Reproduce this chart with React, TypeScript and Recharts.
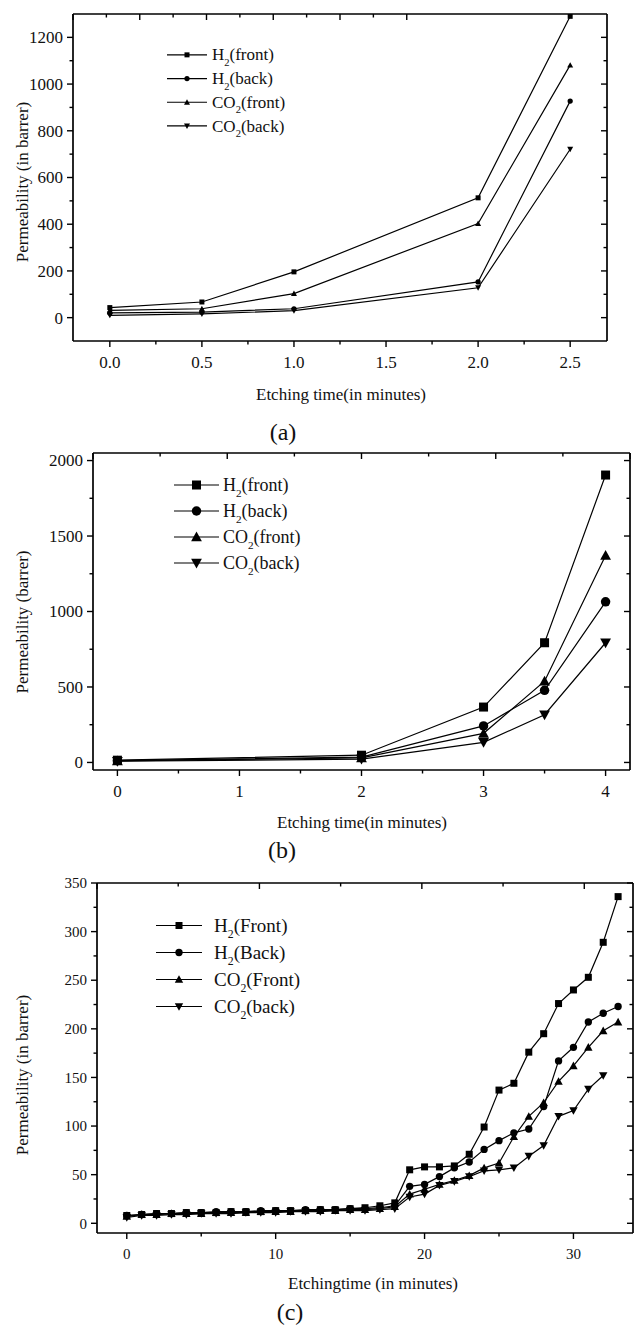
import React from 'react';
import { LineChart, Line, XAxis, YAxis, Legend } from 'recharts';

const FONT = '"Liberation Serif", "Times New Roman", serif';

// panel (a)
const timeA = [0, 0.5, 1, 2, 2.5];
const h2FrontA = [43, 67, 196, 513, 1290];
const h2BackA = [20, 24, 38, 153, 927];
const co2FrontA = [31, 38, 103, 403, 1081];
const co2BackA = [10, 16, 30, 128, 721];
const xTicksA = [0, 0.25, 0.5, 0.75, 1, 1.25, 1.5, 1.75, 2, 2.25, 2.5];
const yTicksA = [0, 100, 200, 300, 400, 500, 600, 700, 800, 900, 1000, 1100, 1200];

// panel (b)
const timeB = [0, 2, 3, 3.5, 4];
const h2FrontB = [15, 48, 367, 793, 1904];
const h2BackB = [12, 35, 242, 478, 1064];
const co2FrontB = [10, 30, 193, 538, 1371];
const co2BackB = [8, 22, 133, 316, 793];
const xTicksB = [0, 0.5, 1, 1.5, 2, 2.5, 3, 3.5, 4];
const yTicksB = [0, 250, 500, 750, 1000, 1250, 1500, 1750, 2000];

// panel (c)
const timeC = [0, 1, 2, 3, 4, 5, 6, 7, 8, 9, 10, 11, 12, 13, 14, 15, 16, 17, 18, 19, 20, 21, 22, 23, 24, 25, 26, 27, 28, 29, 30, 31, 32, 33];
const h2FrontC = [8, 9, 10, 10, 11, 11, 11, 12, 12, 12, 13, 13, 13, 14, 14, 15, 16, 18, 21, 55, 58, 58, 59, 71, 99, 137, 144, 176, 195, 226, 240, 253, 289, 336];
const h2BackC = [8, 9, 10, 10, 11, 11, 12, 12, 12, 13, 13, 13, 14, 14, 14, 15, 15, 16, 18, 38, 40, 48, 57, 63, 76, 85, 93, 97, 120, 167, 181, 207, 216, 223];
const co2FrontC = [7, 9, 9, 10, 10, 10, 11, 11, 11, 12, 12, 12, 13, 13, 13, 14, 14, 15, 17, 30, 35, 40, 44, 49, 57, 62, 89, 110, 124, 146, 162, 181, 198, 207];
const co2BackC = [6, 8, 8, 9, 9, 10, 10, 10, 11, 11, 11, 12, 12, 12, 13, 13, 13, 14, 15, 27, 30, 39, 43, 48, 54, 55, 57, 69, 80, 110, 116, 138, 152];
const xTicksC = [0, 5, 10, 15, 20, 25, 30];
const yTicksC = [0, 25, 50, 75, 100, 125, 150, 175, 200, 225, 250, 275, 300, 325, 350];

type Shape = 'square' | 'circle' | 'up' | 'down';
type Side = 'bottom' | 'top' | 'left' | 'right';

type SeriesDef = {
  key: string;
  base: string;
  label: string;
  shape: Shape;
  values: (number | undefined)[];
};

const Marker = ({ cx, cy, shape, size }: { cx?: number; cy?: number; shape: Shape; size: number }) => {
  if (cx == null || cy == null || Number.isNaN(cy)) return null;
  const h = size / 2;
  if (shape === 'square') return <rect x={cx - h} y={cy - h} width={size} height={size} fill="#000" />;
  if (shape === 'circle') return <circle cx={cx} cy={cy} r={h * 1.05} fill="#000" />;
  const t = h * 1.2;
  if (shape === 'up')
    return <polygon points={`${cx},${cy - t} ${cx - t},${cy + t * 0.8} ${cx + t},${cy + t * 0.8}`} fill="#000" />;
  return <polygon points={`${cx},${cy + t} ${cx - t},${cy - t * 0.8} ${cx + t},${cy - t * 0.8}`} fill="#000" />;
};

const isMajor = (v: number, step: number) => Math.abs(v / step - Math.round(v / step)) < 1e-6;

// ticks are drawn by hand so that minor ticks are shorter and only majors get labels
const makeTick =
  (side: Side, step: number, fmt: (v: number) => string, fontSize: number, gap: number) =>
  (props: any) => {
    const { x, y, payload } = props;
    const v = Number(payload.value);
    const major = isMajor(v, step);
    const len = major ? 6 : 3.5;
    const txt = { fontFamily: FONT, fontSize, fill: '#111' };
    if (side === 'bottom') {
      return (
        <g>
          <line x1={x} y1={y} x2={x} y2={y + len} stroke="#000" strokeWidth={1.4} />
          {major && (
            <text x={x} y={y + gap + fontSize * 0.35} textAnchor="middle" {...txt}>
              {fmt(v)}
            </text>
          )}
        </g>
      );
    }
    if (side === 'left') {
      return (
        <g>
          <line x1={x} y1={y} x2={x - len} y2={y} stroke="#000" strokeWidth={1.4} />
          {major && (
            <text x={x - 10} y={y + fontSize * 0.35} textAnchor="end" {...txt}>
              {fmt(v)}
            </text>
          )}
        </g>
      );
    }
    if (side === 'top') return <line x1={x} y1={y} x2={x} y2={y + len} stroke="#000" strokeWidth={1.4} />;
    return <line x1={x} y1={y} x2={x - len} y2={y} stroke="#000" strokeWidth={1.4} />;
  };

type LegendCfg = { left: number; top: number; gap: number; line: number; textX: number; fontSize: number };

const LegendBox = ({ series, cfg, size }: { series: SeriesDef[]; cfg: LegendCfg; size: number }) => {
  const fs = cfg.fontSize;
  return (
    <svg width={cfg.textX + 110} height={cfg.gap * series.length + 6} style={{ display: 'block', overflow: 'visible' }}>
      {series.map((s, i) => {
        const cy = cfg.gap * i + cfg.gap / 2;
        return (
          <g key={s.key}>
            <line x1={0} y1={cy} x2={cfg.line} y2={cy} stroke="#000" strokeWidth={1.2} />
            <Marker cx={cfg.line / 2} cy={cy} shape={s.shape} size={size} />
            <text x={cfg.textX} y={cy + fs * 0.33} fontFamily={FONT} fontSize={fs} fill="#111">
              {s.base}
              <tspan dy={fs * 0.32} fontSize={fs * 0.62}>
                2
              </tspan>
              <tspan dy={-fs * 0.32}>{s.label}</tspan>
            </text>
          </g>
        );
      })}
    </svg>
  );
};

type PanelProps = {
  top: number;
  height: number;
  // plot box edges, in chart pixels
  box: { top: number; right: number; bottom: number; left: number };
  xDomain: [number, number];
  yDomain: [number, number];
  xTicks: number[];
  yTicks: number[];
  xStep: number;
  yStep: number;
  xFmt: (v: number) => string;
  tickFont: number;
  x: number[];
  series: SeriesDef[];
  markerSize: number;
  legend: LegendCfg;
};

const axisLine = { stroke: '#000', strokeWidth: 1.7 };

const Panel = (p: PanelProps) => {
  const rows = p.x.map((t, i) => {
    const row: Record<string, number | undefined> = { t };
    p.series.forEach((s) => {
      row[s.key] = s.values[i];
    });
    return row;
  });
  const yFmt = (v: number) => String(v);
  // every axis is 1px thick, so the margins are the box minus one
  const margin = {
    top: p.box.top - 1,
    left: p.box.left - 1,
    right: Math.max(0, 634 - p.box.right - 1),
    bottom: p.height - p.box.bottom - 1,
  };
  return (
    <div style={{ position: 'absolute', left: 0, top: p.top }}>
      <LineChart width={634} height={p.height} data={rows} margin={margin}>
        <XAxis
          xAxisId="b"
          dataKey="t"
          type="number"
          domain={p.xDomain}
          allowDataOverflow
          ticks={p.xTicks}
          interval={0}
          height={1}
          tickSize={0}
          tickMargin={0}
          tickLine={false}
          axisLine={axisLine}
          tick={makeTick('bottom', p.xStep, p.xFmt, p.tickFont, 21)}
        />
        <XAxis
          xAxisId="t"
          orientation="top"
          type="number"
          domain={p.xDomain}
          allowDataOverflow
          ticks={p.xTicks}
          interval={0}
          height={1}
          tickSize={0}
          tickMargin={0}
          tickLine={false}
          axisLine={axisLine}
          tick={makeTick('top', p.xStep, p.xFmt, p.tickFont, 0)}
        />
        <YAxis
          yAxisId="l"
          type="number"
          domain={p.yDomain}
          allowDataOverflow
          ticks={p.yTicks}
          interval={0}
          width={1}
          tickSize={0}
          tickMargin={0}
          tickLine={false}
          axisLine={axisLine}
          tick={makeTick('left', p.yStep, yFmt, p.tickFont, 0)}
        />
        <YAxis
          yAxisId="r"
          orientation="right"
          type="number"
          domain={p.yDomain}
          allowDataOverflow
          ticks={p.yTicks}
          interval={0}
          width={1}
          tickSize={0}
          tickMargin={0}
          tickLine={false}
          axisLine={axisLine}
          tick={makeTick('right', p.yStep, yFmt, p.tickFont, 0)}
        />
        {p.series.map((s) => (
          <Line
            key={s.key}
            xAxisId="b"
            yAxisId="l"
            type="linear"
            dataKey={s.key}
            stroke="#000"
            strokeWidth={1.2}
            activeDot={false}
            isAnimationActive={false}
            dot={(d: any) => <Marker key={`${s.key}-${d.index}`} cx={d.cx} cy={d.cy} shape={s.shape} size={p.markerSize} />}
          />
        ))}
        <Legend
          layout="vertical"
          align="center"
          verticalAlign="middle"
          wrapperStyle={{ left: p.legend.left, top: p.legend.top }}
          content={() => <LegendBox series={p.series} cfg={p.legend} size={p.markerSize} />}
        />
      </LineChart>
    </div>
  );
};

const Caption = ({ x, y, text, size, rotate }: { x: number; y: number; text: string; size: number; rotate?: boolean }) => (
  <div
    style={{
      position: 'absolute',
      left: x,
      top: y,
      transform: `translate(-50%, -50%)${rotate ? ' rotate(-90deg)' : ''}`,
      whiteSpace: 'nowrap',
      fontFamily: FONT,
      fontSize: size,
      lineHeight: 1,
      color: '#111',
    }}
  >
    {text}
  </div>
);

const seriesA: SeriesDef[] = [
  { key: 'h2f', base: 'H', label: '(front)', shape: 'square', values: h2FrontA },
  { key: 'h2b', base: 'H', label: '(back)', shape: 'circle', values: h2BackA },
  { key: 'co2f', base: 'CO', label: '(front)', shape: 'up', values: co2FrontA },
  { key: 'co2b', base: 'CO', label: '(back)', shape: 'down', values: co2BackA },
];

const seriesB: SeriesDef[] = [
  { key: 'h2f', base: 'H', label: '(front)', shape: 'square', values: h2FrontB },
  { key: 'h2b', base: 'H', label: '(back)', shape: 'circle', values: h2BackB },
  { key: 'co2f', base: 'CO', label: '(front)', shape: 'up', values: co2FrontB },
  { key: 'co2b', base: 'CO', label: '(back)', shape: 'down', values: co2BackB },
];

const seriesC: SeriesDef[] = [
  { key: 'h2f', base: 'H', label: '(Front)', shape: 'square', values: h2FrontC },
  { key: 'h2b', base: 'H', label: '(Back)', shape: 'circle', values: h2BackC },
  { key: 'co2f', base: 'CO', label: '(Front)', shape: 'up', values: co2FrontC },
  { key: 'co2b', base: 'CO', label: '(back)', shape: 'down', values: co2BackC },
];

export default function App() {
  return (
    <div style={{ position: 'absolute', left: 0, top: 0, width: 634, height: 1325, background: '#fff', overflow: 'hidden' }}>
      <Panel
        top={0}
        height={420}
        box={{ top: 14, right: 607, bottom: 341, left: 73 }}
        xDomain={[-0.2, 2.7]}
        yDomain={[-100, 1300]}
        xTicks={xTicksA}
        yTicks={yTicksA}
        xStep={0.5}
        yStep={200}
        xFmt={(v) => v.toFixed(1)}
        tickFont={17}
        x={timeA}
        series={seriesA}
        markerSize={5}
        legend={{ left: 167, top: 43, gap: 23.7, line: 40, textX: 45, fontSize: 17 }}
      />
      <Caption x={22} y={182} text="Permeability (in barrer)" size={17} rotate />
      <Caption x={341} y={394} text="Etching time(in minutes)" size={17} />
      <Caption x={283} y={432} text="(a)" size={24} />

      <Panel
        top={440}
        height={400}
        box={{ top: 13, right: 630, bottom: 330, left: 93 }}
        xDomain={[-0.2, 4.2]}
        yDomain={[-50, 2050]}
        xTicks={xTicksB}
        yTicks={yTicksB}
        xStep={1}
        yStep={500}
        xFmt={(v) => String(v)}
        tickFont={17}
        x={timeB}
        series={seriesB}
        markerSize={9}
        legend={{ left: 174, top: 32, gap: 26, line: 45, textX: 49, fontSize: 18 }}
      />
      <Caption x={22} y={622} text="Permeability (barrer)" size={17} rotate />
      <Caption x={362} y={822} text="Etching time(in minutes)" size={17} />
      <Caption x={282} y={850} text="(b)" size={24} />

      <Panel
        top={870}
        height={430}
        box={{ top: 13, right: 633, bottom: 363, left: 97 }}
        xDomain={[-2, 34]}
        yDomain={[-10, 350]}
        xTicks={xTicksC}
        yTicks={yTicksC}
        xStep={10}
        yStep={50}
        xFmt={(v) => String(v)}
        tickFont={15}
        x={timeC}
        series={seriesC}
        markerSize={7}
        legend={{ left: 156, top: 41.5, gap: 27, line: 46, textX: 58, fontSize: 19 }}
      />
      <Caption x={22} y={1075} text="Permeability (in barrer)" size={17} rotate />
      <Caption x={373} y={1283} text="Etchingtime (in minutes)" size={17} />
      <Caption x={290} y={1312} text="(c)" size={24} />
    </div>
  );
}
